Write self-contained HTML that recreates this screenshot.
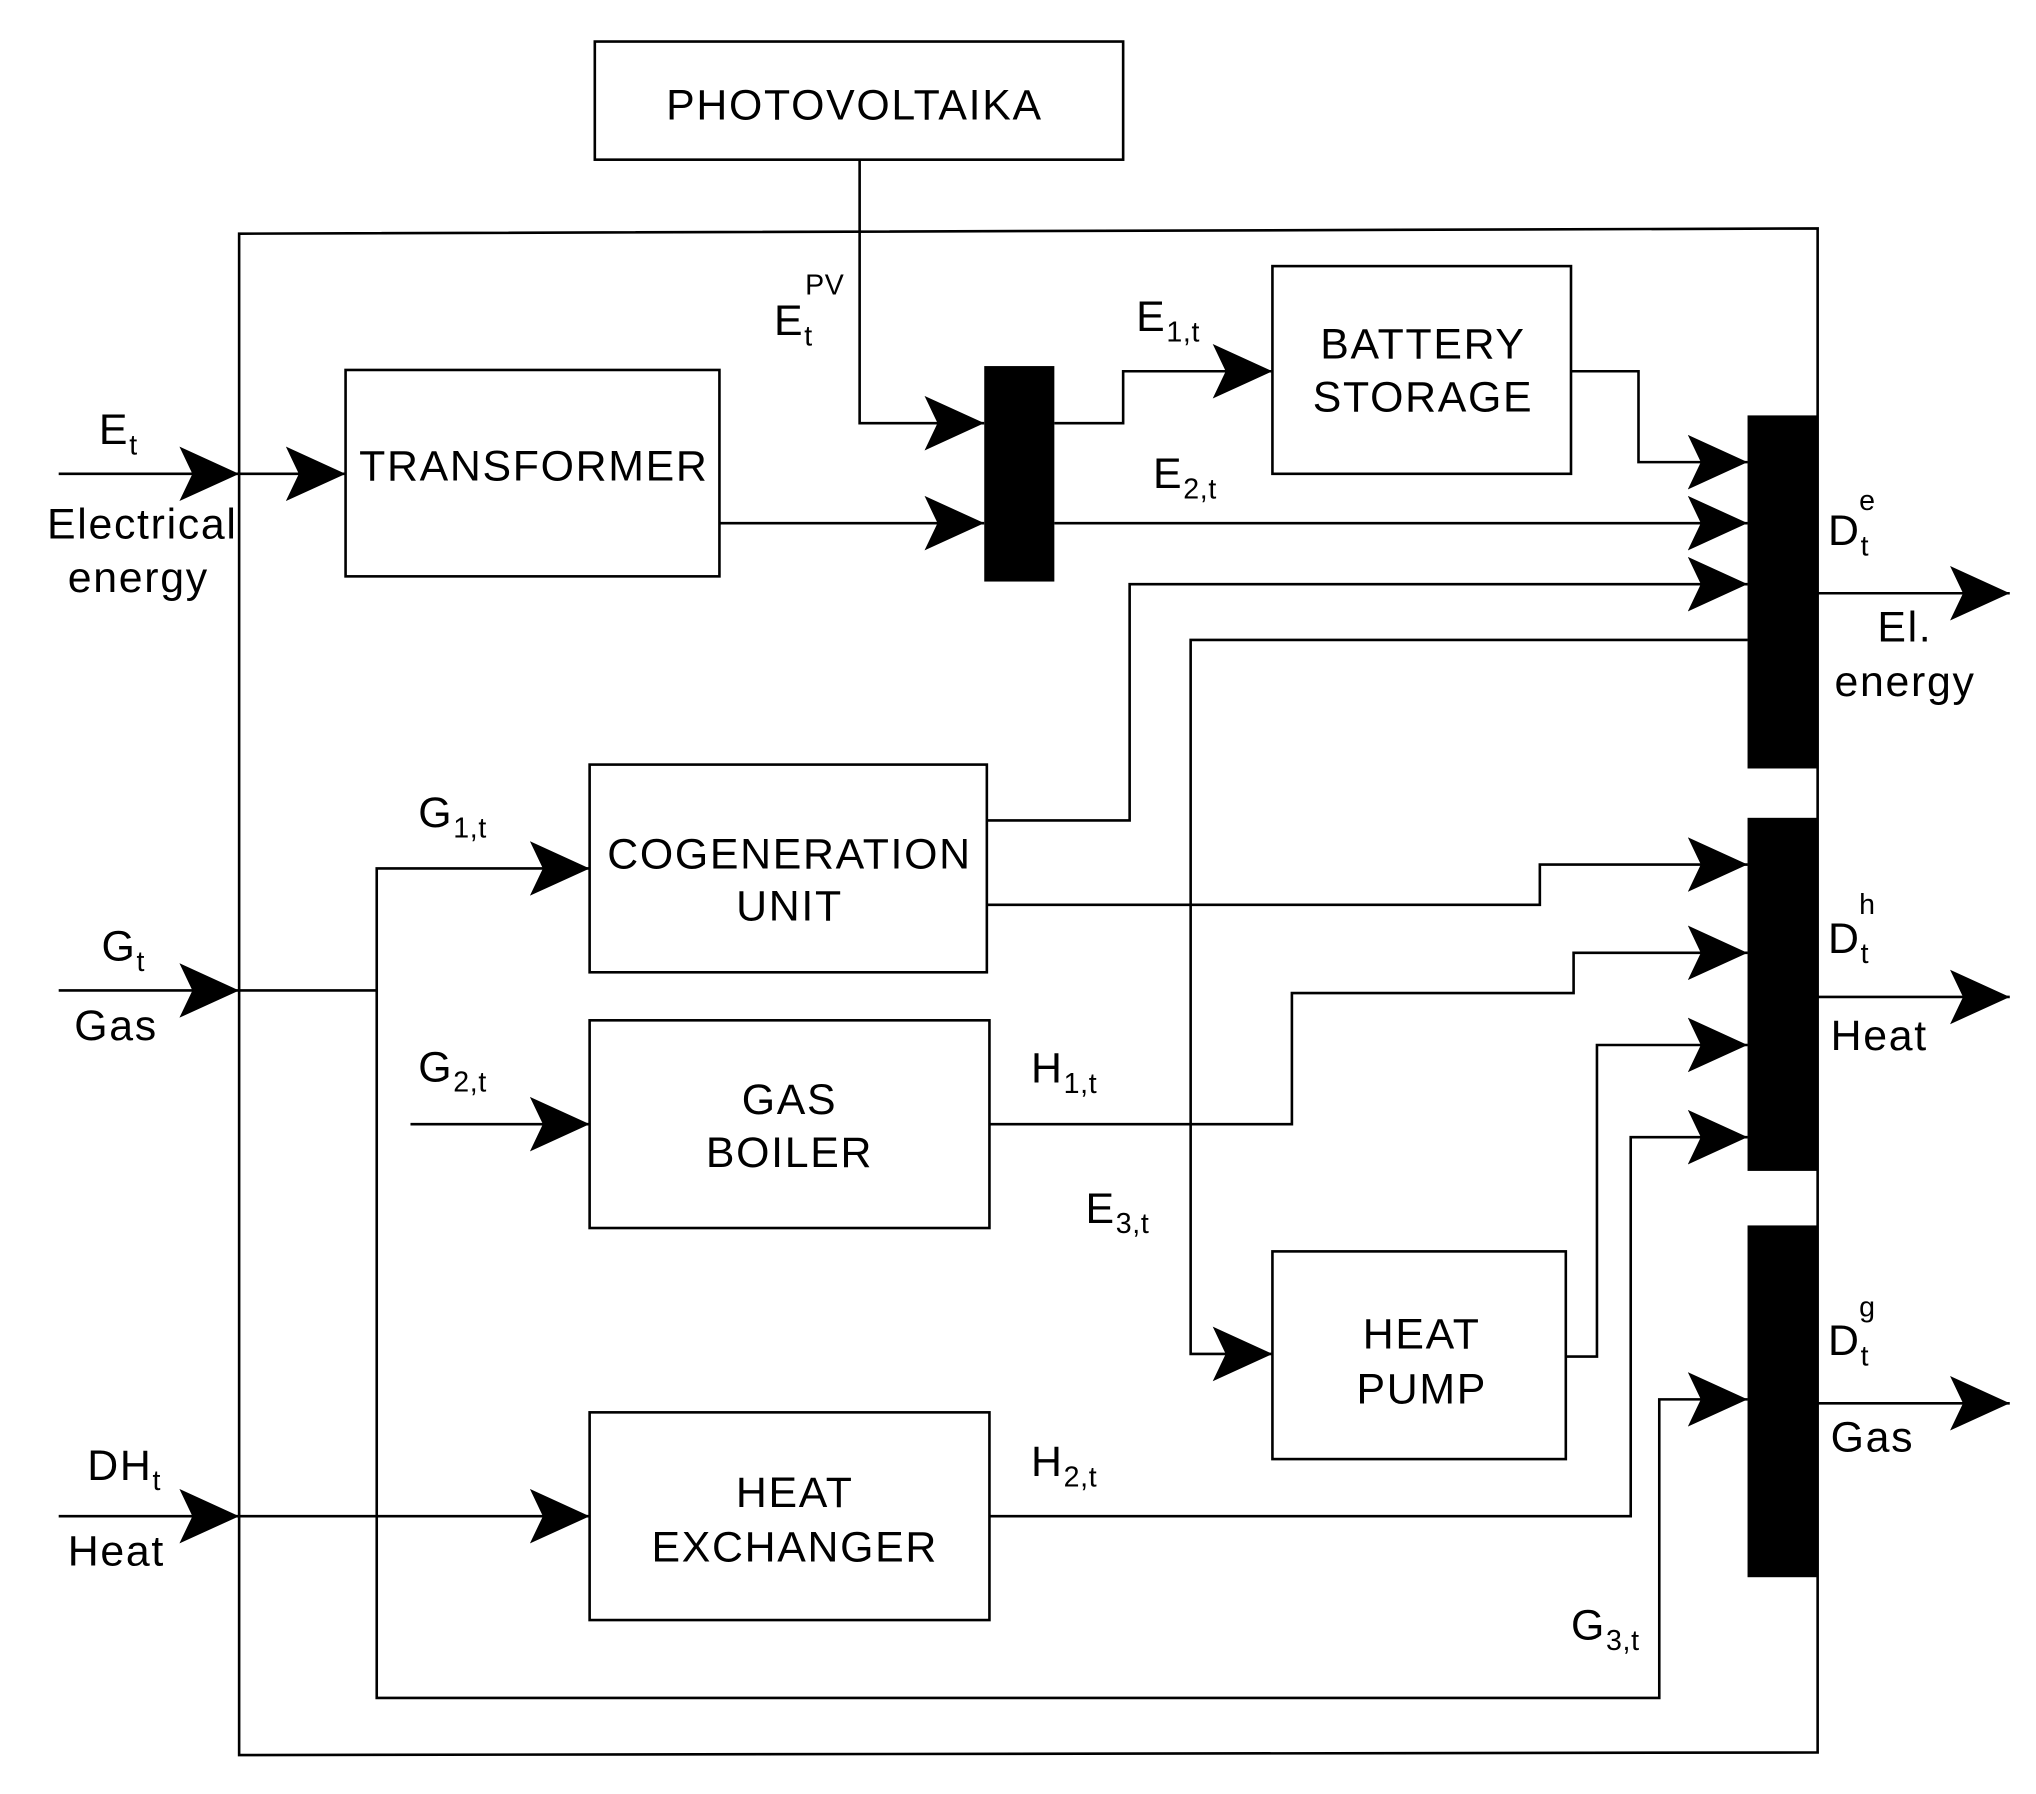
<!DOCTYPE html>
<html><head><meta charset="utf-8"><style>
html,body{margin:0;padding:0;background:#fff;}
svg{display:block;}
text{font-family:"Liberation Sans",Arial,sans-serif;font-size:33px;letter-spacing:1.3px;fill:#000;}
.c{text-anchor:middle;}
.s{font-size:22px;letter-spacing:0.5px;}
</style></head><body>
<svg width="2036" height="1794" viewBox="0 0 1568 1382" xmlns="http://www.w3.org/2000/svg">
<defs>
<marker id="a" markerUnits="userSpaceOnUse" markerWidth="50" markerHeight="46" refX="46" refY="21" orient="auto">
<path d="M46,21 L0,0 L10,21 L0,42 Z" fill="#000"/>
</marker>
</defs>
<g fill="none" stroke="#000" stroke-width="2">
<rect x="458" y="32" width="407" height="91"/>
<path d="M184,180 L1400,176 L1400,1350 L184,1352 Z"/>
<rect x="266" y="285" width="288" height="159"/>
<rect x="980" y="205" width="230" height="160"/>
<rect x="454" y="589" width="306" height="160"/>
<rect x="454" y="786" width="308" height="160"/>
<rect x="980" y="964" width="226" height="160"/>
<rect x="454" y="1088" width="308" height="160"/>
</g>
<g fill="#000">
<rect x="758" y="282" width="54" height="166"/>
<rect x="1346" y="320" width="54" height="272"/>
<rect x="1346" y="630" width="54" height="272"/>
<rect x="1346" y="944" width="54" height="271"/>
</g>
<g fill="none" stroke="#000" stroke-width="2">
<polyline points="662,123 662,326 758,326" marker-end="url(#a)"/>
<polyline points="812,326 865,326 865,286 980,286" marker-end="url(#a)"/>
<polyline points="1210,286 1262,286 1262,356 1346,356" marker-end="url(#a)"/>
<polyline points="45,365 184,365" marker-end="url(#a)"/>
<polyline points="184,365 266,365" marker-end="url(#a)"/>
<polyline points="554,403 758,403" marker-end="url(#a)"/>
<polyline points="812,403 1346,403" marker-end="url(#a)"/>
<polyline points="760,632 870,632 870,450 1346,450" marker-end="url(#a)"/>
<polyline points="1346,493 917,493 917,1043 980,1043" marker-end="url(#a)"/>
<polyline points="760,697 1186,697 1186,666 1346,666" marker-end="url(#a)"/>
<polyline points="762,866 995,866 995,765 1212,765 1212,734 1346,734" marker-end="url(#a)"/>
<polyline points="1206,1045 1230,1045 1230,805 1346,805" marker-end="url(#a)"/>
<polyline points="762,1168 1256,1168 1256,876 1346,876" marker-end="url(#a)"/>
<polyline points="290,763 290,1308 1278,1308 1278,1078 1346,1078" marker-end="url(#a)"/>
<polyline points="45,763 184,763" marker-end="url(#a)"/>
<polyline points="184,763 290,763 290,669 454,669" marker-end="url(#a)"/>
<polyline points="316,866 454,866" marker-end="url(#a)"/>
<polyline points="45,1168 184,1168" marker-end="url(#a)"/>
<polyline points="184,1168 454,1168" marker-end="url(#a)"/>
<polyline points="1400,457 1548,457" marker-end="url(#a)"/>
<polyline points="1400,768 1548,768" marker-end="url(#a)"/>
<polyline points="1400,1081 1548,1081" marker-end="url(#a)"/>
</g>
<text class="c" x="658" y="92">PHOTOVOLTAIKA</text>
<text class="c" x="411" y="370">TRANSFORMER</text>
<text class="c" x="1096" y="276">BATTERY</text>
<text class="c" x="1096" y="317">STORAGE</text>
<text class="c" x="608" y="669">COGENERATION</text>
<text class="c" x="608" y="709">UNIT</text>
<text class="c" x="608" y="858">GAS</text>
<text class="c" x="608" y="899">BOILER</text>
<text class="c" x="612" y="1161">HEAT</text>
<text class="c" x="612" y="1203">EXCHANGER</text>
<text class="c" x="1095" y="1039">HEAT</text>
<text class="c" x="1095" y="1081">PUMP</text>
<text x="76" y="342">E<tspan class="s" dy="8">t</tspan></text>
<text x="36" y="415">Electrical</text>
<text x="52" y="456">energy</text>
<text x="596" y="258">E<tspan class="s" dy="8">t</tspan></text>
<text class="s" x="620" y="227">PV</text>
<text x="875" y="255">E<tspan class="s" dy="8">1,t</tspan></text>
<text x="888" y="376">E<tspan class="s" dy="8">2,t</tspan></text>
<text x="1408" y="420">D<tspan class="s" dy="8">t</tspan></text>
<text class="s" x="1432" y="393">e</text>
<text x="1446" y="494">El.</text>
<text x="1413" y="536">energy</text>
<text x="322" y="637">G<tspan class="s" dy="8">1,t</tspan></text>
<text x="78" y="740">G<tspan class="s" dy="8">t</tspan></text>
<text x="57" y="801">Gas</text>
<text x="322" y="833">G<tspan class="s" dy="8">2,t</tspan></text>
<text x="794" y="834">H<tspan class="s" dy="8">1,t</tspan></text>
<text x="836" y="942">E<tspan class="s" dy="8">3,t</tspan></text>
<text x="1408" y="734">D<tspan class="s" dy="8">t</tspan></text>
<text class="s" x="1432" y="704">h</text>
<text x="1410" y="809">Heat</text>
<text x="1408" y="1044">D<tspan class="s" dy="8">t</tspan></text>
<text class="s" x="1432" y="1014">g</text>
<text x="1410" y="1118">Gas</text>
<text x="67" y="1140">DH<tspan class="s" dy="8">t</tspan></text>
<text x="52" y="1206">Heat</text>
<text x="794" y="1137">H<tspan class="s" dy="8">2,t</tspan></text>
<text x="1210" y="1263">G<tspan class="s" dy="8">3,t</tspan></text>
</svg>
</body></html>
